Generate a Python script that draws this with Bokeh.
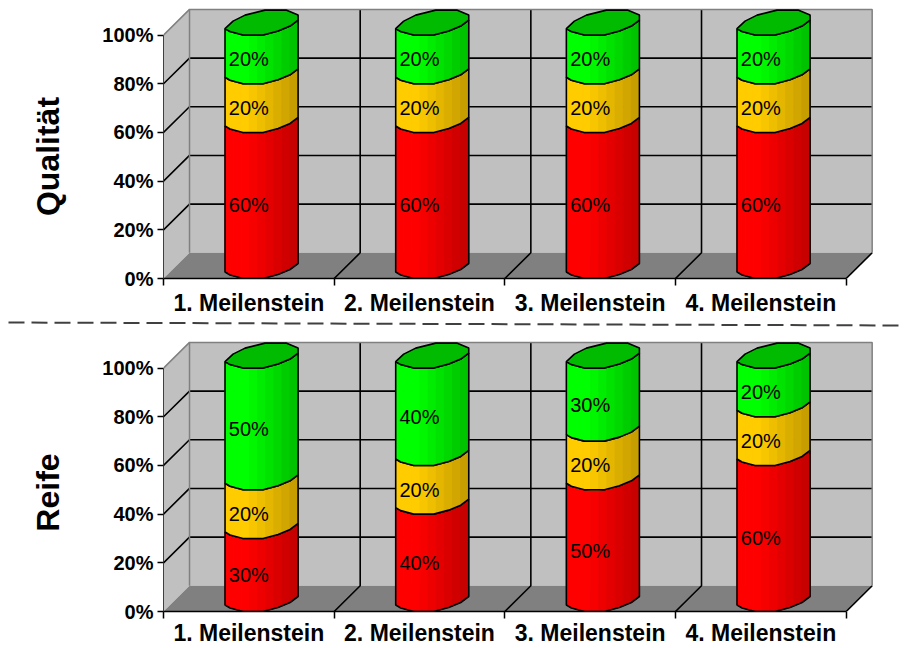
import numpy as np
from bokeh.plotting import figure
from bokeh.layouts import column, row
from bokeh.models import Range1d, FixedTicker, PrintfTickFormatter
from bokeh.embed import file_html
from bokeh.resources import INLINE

categories = ["1. Meilenstein", "2. Meilenstein", "3. Meilenstein", "4. Meilenstein"]
y_ticks = [0, 20, 40, 60, 80, 100]
qualitaet_red = [60, 60, 60, 60]
qualitaet_yellow = [20, 20, 20, 20]
qualitaet_green = [20, 20, 20, 20]
reife_red = [30, 40, 50, 60]
reife_yellow = [20, 20, 20, 20]
reife_green = [50, 40, 30, 20]

CAT_PX = 170.55
VAL_PX = 2.434
X0_PX = 163.5
LABEL_W = 84
DEPTH_X = 26 / CAT_PX
DEPTH_Y = 25.7 / VAL_PX
CYL_LEFT = 61.5 / CAT_PX
FONT = "Liberation Sans"

# shape of the cylinder's end, in px: across the cylinder, upward from the level
low_u = [0, 5, 18, 38, 53, 65, 73]
low_v = [6.5, 3.5, 0, 0, 4, 9, 15]
top_u = [0, 8, 20, 40, 61, 73]
top_v = [6.5, 14, 20, 25, 25, 20]

RED = ((255, 0, 0), (190, 0, 0))
YELLOW = ((255, 204, 0), (190, 150, 0))
GREEN = ((0, 255, 0), (0, 185, 0))
CAP = "#00BB00"


def shade(c, t):
    t = max(0.0, (t - 0.25) / 0.75)
    a, b = c
    return "#%02x%02x%02x" % tuple(int(a[k] + (b[k] - a[k]) * t) for k in range(3))


def blank(width, height):
    f = figure(frame_width=width, frame_height=height, output_backend="svg", toolbar_location=None,
               x_axis_location=None, y_axis_location=None,
               x_range=Range1d(0, width), y_range=Range1d(0, height),
               min_border_left=0, min_border_right=0, min_border_top=0, min_border_bottom=0,
               outline_line_color=None, border_fill_color=None)
    f.grid.visible = False
    return f


def panel(name, red, yellow, green, height, zero_px, label_y, standoff):
    top = zero_px / VAL_PX
    p = figure(width=904 - LABEL_W, height=height, output_backend="svg", toolbar_location=None,
               x_range=Range1d(0, (904 - X0_PX) / CAT_PX), y_range=Range1d(0, top),
               min_border_left=int(X0_PX) - LABEL_W, min_border_right=0, min_border_top=0,
               min_border_bottom=height - zero_px, outline_line_color=None,
               background_fill_color="white", border_fill_color=None)
    p.grid.visible = False
    d, e = DEPTH_X, DEPTH_Y
    p.patch([d, 4 + d, 4 + d, d], [e, e, 100 + e, 100 + e], color="#C0C0C0", line_color=None)
    p.patch([0, d, d, 0], [0, e, 100 + e, 100], color="#C0C0C0", line_color=None)
    p.patch([0, 4, 4 + d, d], [0, 0, e, e], color="#808080", line_color=None)
    for v in y_ticks[1:-1]:
        p.line([0, d, 4 + d], [v, v + e, v + e], line_color="black", line_width=1.6)
    for i in range(1, 4):
        p.line([i, i + d, i + d], [0, e, 100 + e], line_color="black", line_width=1.6)
    p.line([4, 4 + d], [0, e], line_color="black", line_width=1.6)
    p.line([0, d, 4 + d, 4 + d], [100, 100 + e, 100 + e, e], line_color="#808080", line_width=1.5)
    p.line([d, d], [e, 100 + e], line_color="#808080", line_width=1.5)

    strips = np.linspace(0, 73, 10)
    for i in range(len(categories)):
        left = i + CYL_LEFT
        level = 0
        for val, col in ((red[i], RED), (yellow[i], YELLOW), (green[i], GREEN)):
            lo, hi = level, level + val
            xs, ys = [], []
            fills = []
            for a, b in zip(strips[:-1], strips[1:]):
                va, vb = np.interp([a, b], low_u, low_v) / VAL_PX
                xa, xb = left + a / CAT_PX, left + b / CAT_PX
                xs.append([xa, xb, xb, xa])
                ys.append([lo + va, lo + vb, hi + vb, hi + va])
                fills.append(shade(col, a / 73))
            p.patches(xs, ys, fill_color=fills, line_color=fills, line_width=1)
            ox = left + np.array(low_u) / CAT_PX
            oy = np.array(low_v) / VAL_PX
            p.patch(list(ox) + list(ox[::-1]), list(lo + oy) + list((hi + oy)[::-1]),
                    fill_color=None, line_color="black", line_width=1.6)
            p.text([i + 0.5], [(lo + hi) / 2], text=[f"{val}%"], text_font={"value": FONT},
                   text_font_size="20px", text_align="center", text_baseline="middle",
                   text_color="black")
            level = hi
        cx = left + np.concatenate([top_u, low_u[::-1]]) / CAT_PX
        cy = level + np.concatenate([top_v, low_v[::-1]]) / VAL_PX
        p.patch(list(cx), list(cy), fill_color=CAP, line_color="black", line_width=1.6)

    ax = p.xaxis[0]
    ax.bounds = (0, 4)
    ax.ticker = FixedTicker(ticks=[i + 0.5 for i in range(4)], minor_ticks=list(range(5)))
    ax.major_label_overrides = {i + 0.5: c for i, c in enumerate(categories)}
    ax.major_tick_out = 0
    ax.major_tick_in = 0
    ax.minor_tick_out = 7
    ax.minor_tick_in = 0
    ax.minor_tick_line_color = "black"
    ax.minor_tick_line_width = 1.5
    ax.axis_line_color = "black"
    ax.axis_line_width = 1.6
    ax.major_label_standoff = standoff
    ax.major_label_text_font = FONT
    ax.major_label_text_font_style = "bold"
    ax.major_label_text_font_size = "23px"
    ax.major_label_text_color = "black"

    ay = p.yaxis[0]
    ay.bounds = (0, 100)
    ay.ticker = FixedTicker(ticks=y_ticks)
    ay.formatter = PrintfTickFormatter(format="%d%%")
    ay.major_tick_out = 6
    ay.major_tick_in = 0
    ay.minor_tick_out = 0
    ay.major_tick_line_color = "black"
    ay.major_tick_line_width = 1.5
    ay.axis_line_color = "#404040"
    ay.axis_line_width = 1
    ay.major_label_standoff = 4
    ay.major_label_text_font = FONT
    ay.major_label_text_font_style = "bold"
    ay.major_label_text_font_size = "20px"
    ay.major_label_text_color = "black"

    side = blank(LABEL_W, height)
    side.text([47], [height - label_y], text=[name], angle=np.pi / 2, text_font={"value": FONT},
              text_font_style="bold", text_font_size="32px", text_color="black",
              text_align="center", text_baseline="middle")
    return row(side, p, spacing=0)


r1 = panel("Qualität", qualitaet_red, qualitaet_yellow, qualitaet_green, 318, 278, 156, 4)
sep = blank(904, 12)
sep.line([8, 904], [8, 5], line_color="#404040", line_width=2, line_dash="16 7")
r2 = panel("Reife", reife_red, reife_yellow, reife_green, 318, 281, 162, 1)

page = column(r1, sep, r2, spacing=0)
open("out.html", "w").write(file_html(page, INLINE))
